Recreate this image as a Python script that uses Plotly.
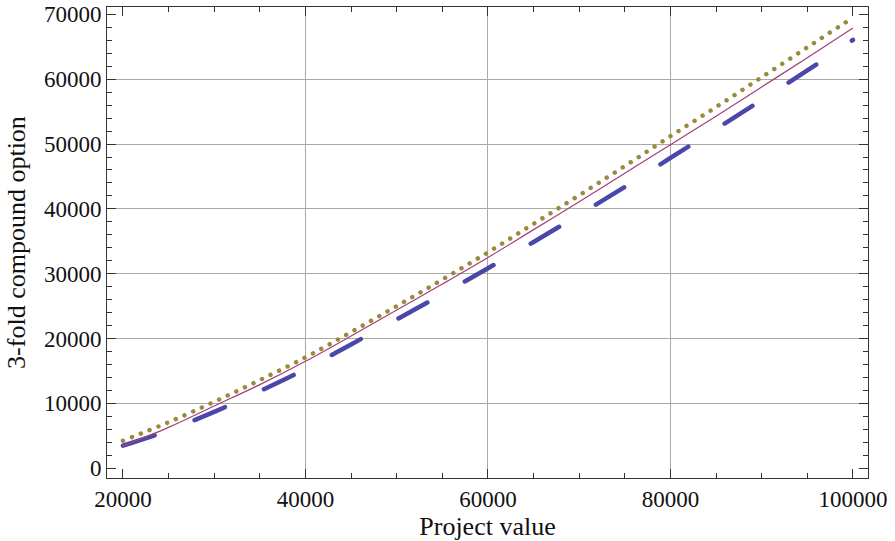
import plotly.graph_objects as go

# ---- data ----
project_value = [20000, 25000, 30000, 35000, 40000, 45000, 50000, 55000, 60000,
                 65000, 70000, 75000, 80000, 85000, 90000, 95000, 100000]
option_solid = [3450, 6300, 9600, 12900, 16500, 20400, 24400, 28400, 32500,
                36800, 41100, 45500, 49900, 54300, 58800, 63300, 67900]
option_dotted = [4250, 7100, 10250, 13600, 17100, 21000, 25000, 29100, 33300,
                 37700, 42100, 46600, 51200, 55700, 60300, 64900, 69500]
option_dashed = [3500, 5850, 8700, 11900, 15300, 19100, 22950, 26850, 30850,
                 34900, 39100, 43400, 47850, 52300, 56800, 61350, 66050]

x_ticks = [20000, 40000, 60000, 80000, 100000]
y_ticks = [0, 10000, 20000, 30000, 40000, 50000, 60000, 70000]
x_grid = [40000, 60000, 80000]
y_grid = [10000, 20000, 30000, 40000, 50000, 60000]

x_range = [18250, 101650]
y_range = [-1500, 71130]

FONT = "Liberation Serif"
AX = "#333333"
GRID = "#a9a9a9"

fig = go.Figure()
fig.add_trace(go.Scatter(x=project_value, y=option_dashed, mode="lines",
                         line=dict(color="#4a46aa", width=4.5, dash="34px,42px", shape="spline"),
                         showlegend=False, hoverinfo="skip"))
fig.add_trace(go.Scatter(x=project_value, y=option_dotted, mode="lines",
                         line=dict(color="#9a8a3e", width=4.5, dash="4px,5.5px", shape="spline"),
                         showlegend=False, hoverinfo="skip"))
fig.add_trace(go.Scatter(x=project_value, y=option_solid, mode="lines",
                         line=dict(color="#a33f79", width=1.2, shape="spline"),
                         showlegend=False, hoverinfo="skip"))
# empty traces only to instantiate the grid-only overlay axes
fig.add_trace(go.Scatter(x=[], y=[], xaxis="x2", yaxis="y", showlegend=False, hoverinfo="skip"))
fig.add_trace(go.Scatter(x=[], y=[], xaxis="x", yaxis="y2", showlegend=False, hoverinfo="skip"))

axis_common = dict(
    showgrid=False, zeroline=False, showline=True, linecolor=AX, linewidth=1,
    mirror="ticks", ticks="inside", ticklen=9, tickwidth=1, tickcolor=AX,
    tickfont=dict(family=FONT, size=23, color="#111111"),
    tickformat="d", automargin=False,
)

fig.update_layout(
    width=895, height=541,
    margin=dict(l=107, r=27, t=7, b=63, autoexpand=False),
    paper_bgcolor="white", plot_bgcolor="white",
    font=dict(family=FONT, color="#111111"),
    xaxis=dict(**axis_common, range=x_range, tickvals=x_ticks,
               minor=dict(ticks="inside", ticklen=5, tickwidth=1, tickcolor=AX,
                          dtick=5000, tick0=0, showgrid=False),
               title=dict(text="Project value", font=dict(family=FONT, size=26, color="#111111"),
                          standoff=0)),
    yaxis=dict(**axis_common, range=y_range, tickvals=y_ticks,
               minor=dict(ticks="inside", ticklen=5, tickwidth=1, tickcolor=AX,
                          dtick=2000, tick0=0, showgrid=False),
               title=dict(text="3-fold compound option", font=dict(family=FONT, size=26, color="#111111"),
                          standoff=10)),
    xaxis2=dict(overlaying="x", anchor="y", range=x_range, tickvals=x_grid,
                showgrid=True, gridcolor=GRID, gridwidth=1, automargin=False,
                showticklabels=False, ticks="", showline=False, zeroline=False),
    yaxis2=dict(overlaying="y", anchor="x", range=y_range, tickvals=y_grid,
                showgrid=True, gridcolor=GRID, gridwidth=1, automargin=False,
                showticklabels=False, ticks="", showline=False, zeroline=False),
)

post = """
document.body.style.margin = '0';
document.body.style.padding = '0';
var s = document.createElement('style');
s.textContent = 'html,body{margin:0 !important;padding:0 !important;overflow:hidden;}' +
                '.scatterlayer .trace:nth-child(1) path.js-line{stroke-linecap:round !important;stroke-dasharray:33px,43px !important;}' +
                '.scatterlayer .trace:nth-child(2) path.js-line{stroke-linecap:round !important;stroke-dasharray:0.01px,9.5px !important;}';
document.head.appendChild(s);
"""

fig.write_html("out.html", post_script=post, config={"displayModeBar": False, "staticPlot": True})
